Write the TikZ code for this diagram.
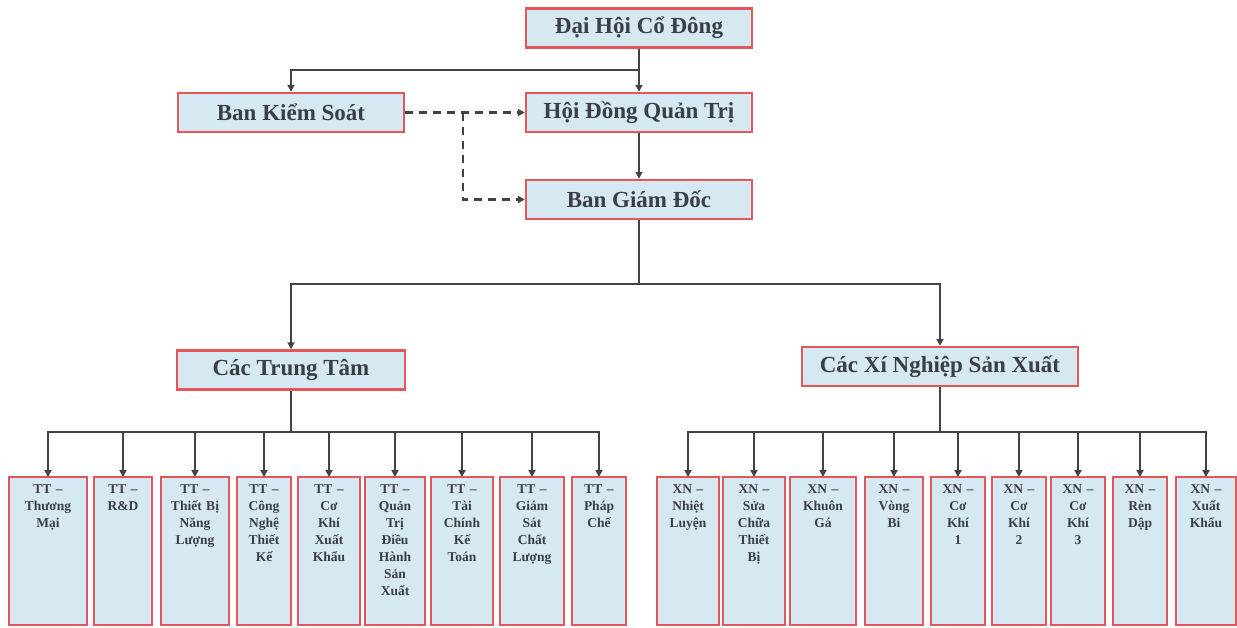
\documentclass[tikz,border=0pt]{standalone}
\usepackage{fontspec}
\setmainfont{Liberation Serif}
\usepackage{xcolor}
\usepackage{tikz}
\usetikzlibrary{arrows.meta,positioning}
\definecolor{boxblue}{RGB}{214,232,242}
\definecolor{boxred}{RGB}{226,86,92}
\definecolor{ink}{RGB}{58,62,70}
\definecolor{wire}{RGB}{66,66,66}

\begin{document}
\begin{tikzpicture}[
    x=1pt, y=-1pt,
    box/.style={draw=boxred, line width=2.4pt, fill=boxblue, text=ink, font=\bfseries\fontsize{23}{27}\selectfont, minimum width=226pt, minimum height=39pt, inner sep=0pt},
    unit/.style={draw=boxred, line width=2.4pt, fill=boxblue, text=ink, font=\bfseries\fontsize{13.5}{17}\selectfont, align=center, text width=52pt, inner xsep=1pt, inner ysep=4pt, outer sep=0pt, text height=12pt, text depth=128pt},
    link/.style={line width=2.2pt, draw=wire},
    edge/.style={link, -{Triangle[length=7pt,width=7pt]}},
    dashlink/.style={edge, dash pattern=on 8pt off 6pt}
]
\useasboundingbox (0,0) rectangle (1237,627);
\node[box] (dhcd) at (639,28) {Đại Hội Cổ Đông};
\node[box] (hdqt) at (639,112.5) {Hội Đồng Quản Trị};
\node[box] (bks) at (291,112.5) {Ban Kiểm Soát};
\node[box] (bgd) at (639,199.5) {Ban Giám Đốc};
\node[box, minimum width=228pt] (ctt) at (291,370) {Các Trung Tâm};
\node[box, minimum width=276pt] (cxn) at (940,366.5) {Các Xí Nghiệp Sản Xuất};

\node[unit, anchor=north, minimum width=78pt] (tt1) at (48,477) {TT –\\Thương\\Mại};
\node[unit, right=7pt of tt1, minimum width=58pt] (tt2) {TT –\\R\&D};
\node[unit, right=9pt of tt2, minimum width=68pt] (tt3) {TT –\\Thiết Bị\\Năng\\Lượng};
\node[unit, right=8pt of tt3, minimum width=54pt] (tt4) {TT –\\Công\\Nghệ\\Thiết\\Kế};
\node[unit, right=7pt of tt4, minimum width=62pt] (tt5) {TT –\\Cơ\\Khí\\Xuất\\Khẩu};
\node[unit, right=5pt of tt5, minimum width=60pt] (tt6) {TT –\\Quản\\Trị\\Điều\\Hành\\Sản\\Xuất};
\node[unit, right=6pt of tt6, minimum width=62pt] (tt7) {TT –\\Tài\\Chính\\Kế\\Toán};
\node[unit, right=7pt of tt7, minimum width=64pt] (tt8) {TT –\\Giám\\Sát\\Chất\\Lượng};
\node[unit, right=8pt of tt8, minimum width=54pt] (tt9) {TT –\\Pháp\\Chế};

\node[unit, anchor=north, minimum width=62pt] (xn1) at (688,477) {XN –\\Nhiệt\\Luyện};
\node[unit, right=4pt of xn1, minimum width=62pt] (xn2) {XN –\\Sửa\\Chữa\\Thiết\\Bị};
\node[unit, right=5pt of xn2, minimum width=66pt] (xn3) {XN –\\Khuôn\\Gá};
\node[unit, right=9pt of xn3, minimum width=58pt] (xn4) {XN –\\Vòng\\Bi};
\node[unit, right=8pt of xn4, minimum width=54pt] (xn5) {XN –\\Cơ\\Khí\\1};
\node[unit, right=7pt of xn5, minimum width=54pt] (xn6) {XN –\\Cơ\\Khí\\2};
\node[unit, right=5pt of xn6, minimum width=54pt] (xn7) {XN –\\Cơ\\Khí\\3};
\node[unit, right=8pt of xn7, minimum width=54pt] (xn8) {XN –\\Rèn\\Dập};
\node[unit, right=9pt of xn8, minimum width=60pt] (xn9) {XN –\\Xuất\\Khẩu};

\coordinate (j1) at (639,70);
\coordinate (j2) at (639,284);
\coordinate (j3) at (291,432);
\coordinate (j4) at (940,432);
\coordinate (dj) at (463,112.5);

\draw[edge] (dhcd) -- (hdqt);
\draw[edge] (j1) -| (bks);
\draw[edge] (hdqt) -- (bgd);
\draw[dashlink] (bks) -- (hdqt);
\draw[dashlink] (dj) |- (bgd);
\draw[link] (bgd) -- (j2);
\draw[edge] (j2) -| (ctt);
\draw[edge] (j2) -| (cxn);
\draw[link] (ctt) -- (j3);
\draw[link] (cxn) -- (j4);
\draw[edge] (j3) -| (tt1);
\draw[edge] (j3) -| (tt2);
\draw[edge] (j3) -| (tt3);
\draw[edge] (j3) -| (tt4);
\draw[edge] (j3) -| (tt5);
\draw[edge] (j3) -| (tt6);
\draw[edge] (j3) -| (tt7);
\draw[edge] (j3) -| (tt8);
\draw[edge] (j3) -| (tt9);
\draw[edge] (j4) -| (xn1);
\draw[edge] (j4) -| (xn2);
\draw[edge] (j4) -| (xn3);
\draw[edge] (j4) -| (xn4);
\draw[edge] (j4) -| (xn5);
\draw[edge] (j4) -| (xn6);
\draw[edge] (j4) -| (xn7);
\draw[edge] (j4) -| (xn8);
\draw[edge] (j4) -| (xn9);
\end{tikzpicture}
\end{document}
